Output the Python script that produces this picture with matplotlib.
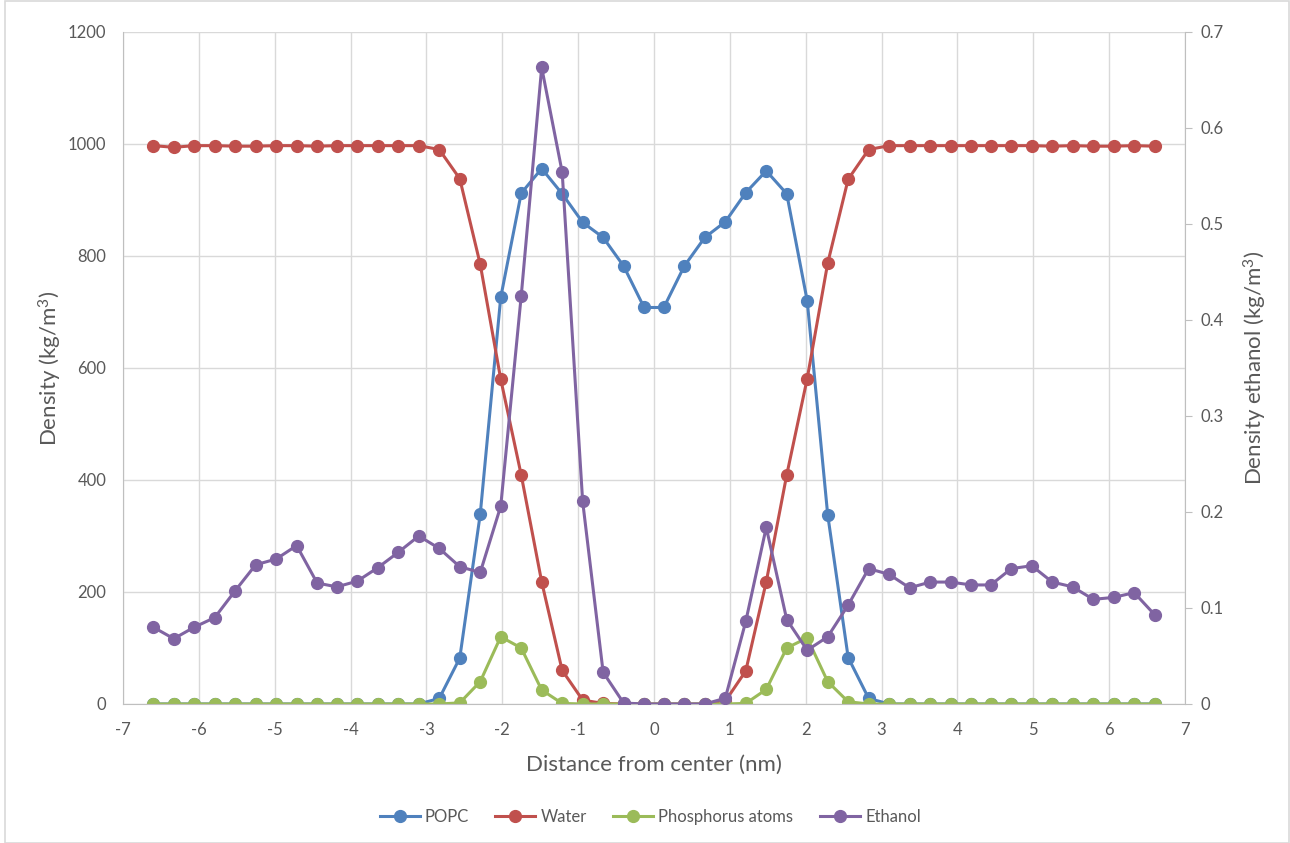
import matplotlib
matplotlib.use("Agg")
import matplotlib.pyplot as plt
from matplotlib.patches import Rectangle
from matplotlib.ticker import FuncFormatter, MultipleLocator

plt.rcParams['font.family'] = ['Lato', 'DejaVu Sans']
plt.rcParams['mathtext.fontset'] = 'custom'
plt.rcParams['mathtext.rm'] = 'Lato'
plt.rcParams['mathtext.it'] = 'Lato:italic'
plt.rcParams['axes.unicode_minus'] = False

# Distance from bilayer center (nm)
distance = [-6.6, -6.33, -6.06, -5.79, -5.52, -5.25, -4.98, -4.71, -4.44, -4.18,
            -3.91, -3.64, -3.37, -3.1, -2.83, -2.56, -2.29, -2.02, -1.75, -1.48,
            -1.21, -0.94, -0.67, -0.4, -0.13, 0.13, 0.4, 0.67, 0.94, 1.21,
            1.48, 1.75, 2.02, 2.29, 2.56, 2.83, 3.1, 3.37, 3.64, 3.91,
            4.18, 4.44, 4.71, 4.98, 5.25, 5.52, 5.79, 6.06, 6.33, 6.6]

# Densities (kg/m3)
popc = [0, 0, 0, 0, 0, 0, 0, 0, 0, 0,
        0, 0, 0, 0, 10, 82, 339, 726, 912, 956,
        911, 860, 833, 782, 708, 708, 782, 833, 861, 913,
        952, 911, 720, 338, 83, 10, 0, 0, 0, 0,
        0, 0, 0, 0, 0, 0, 0, 0, 0, 0]

water = [997, 994, 997, 997, 996, 996, 997, 997, 996, 997,
         997, 997, 997, 997, 990, 938, 785, 580, 409, 218,
         60, 7, 1, 0, 0, 0, 0, 0, 5, 59,
         218, 409, 581, 787, 937, 990, 997, 997, 997, 997,
         997, 997, 997, 997, 996, 997, 996, 996, 997, 996]

phosphorus = [0, 0, 0, 0, 0, 0, 0, 0, 0, 0,
              0, 0, 0, 0, 0, 2, 40, 120, 100, 25,
              1, 0, 0, 0, 0, 0, 0, 0, 0, 1,
              26, 100, 118, 40, 4, 0, 0, 0, 0, 0,
              0, 0, 0, 0, 0, 0, 0, 0, 0, 0]

# Ethanol density on the secondary axis
ethanol = [0.080, 0.068, 0.080, 0.090, 0.118, 0.145, 0.151, 0.165, 0.126, 0.122,
           0.128, 0.142, 0.158, 0.175, 0.162, 0.143, 0.137, 0.206, 0.425, 0.663,
           0.554, 0.211, 0.033, 0.001, 0, 0, 0, 0, 0.006, 0.086,
           0.184, 0.088, 0.056, 0.070, 0.103, 0.141, 0.135, 0.121, 0.127, 0.127,
           0.124, 0.124, 0.141, 0.144, 0.127, 0.122, 0.109, 0.111, 0.116, 0.093]

text_col = '#595959'
grid_col = '#d9d9d9'
line_kw = dict(marker='o', markersize=8.5, linewidth=2.2)

fig = plt.figure(figsize=(12.9, 8.43), dpi=100)
ax = fig.add_axes([0.0953, 0.1649, 0.8233, 0.7972])

l1, = ax.plot(distance, popc, color='#4f81bd', label='POPC', **line_kw)
l2, = ax.plot(distance, water, color='#c0504d', label='Water', **line_kw)
l3, = ax.plot(distance, phosphorus, color='#9bbb59', label='Phosphorus atoms', **line_kw)

ax.set_xlim(-7, 7)
ax.set_ylim(0, 1200)
ax.xaxis.set_major_locator(MultipleLocator(1))
ax.yaxis.set_major_locator(MultipleLocator(200))
ax.grid(True, color=grid_col, linewidth=1)
ax.set_axisbelow(True)
for s in ['top', 'right']:
    ax.spines[s].set_visible(False)
for s in ['left', 'bottom']:
    ax.spines[s].set_color('#bfbfbf')
ax.tick_params(axis='x', length=0, pad=13, labelsize=12, labelcolor=text_col)
ax.tick_params(axis='y', length=0, pad=12, labelsize=12, labelcolor=text_col)
ax.set_xlabel('Distance from center (nm)', fontsize=16, color=text_col, labelpad=12)
ax.set_ylabel('Density (kg/m$^3$)', fontsize=16, color=text_col, labelpad=3)

ax2 = ax.twinx()
l4, = ax2.plot(distance, ethanol, color='#8064a2', label='Ethanol', **line_kw)
ax2.set_ylim(0, 0.7)
ax2.yaxis.set_major_locator(MultipleLocator(0.1))
ax2.yaxis.set_major_formatter(FuncFormatter(lambda v, p: f'{v:g}'))
for s in ['top', 'left', 'bottom']:
    ax2.spines[s].set_visible(False)
ax2.spines['right'].set_color('#bfbfbf')
ax2.tick_params(axis='y', length=5, color='#bfbfbf', pad=6, labelsize=12, labelcolor=text_col)
ax2.set_ylabel('Density ethanol (kg/m$^3$)', fontsize=16, color=text_col, labelpad=13)

leg = fig.legend(handles=[l1, l2, l3, l4], loc='center', bbox_to_anchor=(0.504, 0.031),
                 ncol=4, frameon=False, fontsize=12, handlelength=2.4,
                 columnspacing=1.6, handletextpad=0.3)
for t in leg.get_texts():
    t.set_color(text_col)

fig.patches.append(Rectangle((0.004, 0.0), 0.995, 0.999, transform=fig.transFigure,
                             fill=False, edgecolor='#d9d9d9', linewidth=1.2))

fig.savefig('out.png', dpi=100)
